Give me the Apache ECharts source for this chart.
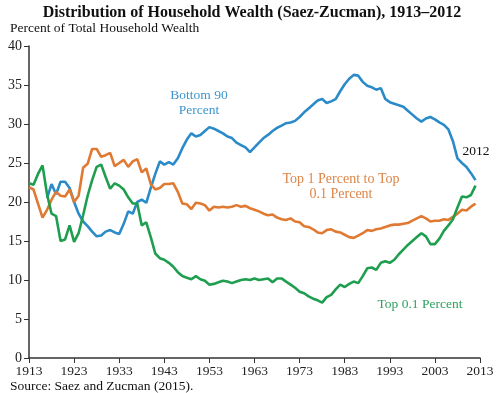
<!DOCTYPE html>
<html>
<head>
<meta charset="utf-8">
<script src="https://cdn.jsdelivr.net/npm/echarts@6/dist/echarts.min.js"></script>
<style>html,body{margin:0;padding:0;background:#fff;}#c{width:500px;height:393px;}</style>
</head>
<body>
<div id="c"></div>
<script>
// Years on the x axis (category ticks every 10 years from 1913)
const firstYear = 1913;
const lastYear = 2013;
const years = [];
for (let y = firstYear; y <= lastYear; y++) years.push(String(y));

// Top 0.1 Percent, 1913-2012
const top01 = [
22.4,22.2,23.6,24.7,21.0,18.5,18.2,15.0,15.2,17.0,
14.9,16.0,18.3,20.8,22.8,24.5,24.8,23.2,21.7,22.4,
22.1,21.6,20.6,19.8,19.8,17.0,17.4,15.5,13.4,12.8,
12.6,12.2,11.7,11.0,10.5,10.3,10.1,10.5,10.1,9.9,
9.4,9.5,9.7,9.9,9.8,9.6,9.8,10.0,10.1,10.0,
10.2,10.0,10.1,10.2,9.7,10.2,10.2,9.8,9.4,9.0,
8.5,8.3,7.9,7.6,7.4,7.1,7.8,8.1,8.8,9.4,
9.1,9.5,9.8,9.6,10.5,11.5,11.6,11.3,12.2,12.4,
12.2,12.6,13.3,13.9,14.5,15.0,15.5,16.0,15.6,14.6,
14.6,15.3,16.3,17.0,17.8,19.3,20.7,20.6,20.9,22.1
];

// Top 1 Percent to Top 0.1 Percent, 1913-2012
const top1to01 = [
21.9,21.6,19.8,18.0,19.0,20.3,21.3,20.8,20.7,21.6,
20.0,20.8,24.4,24.9,26.8,26.8,25.8,26.0,26.3,24.6,
25.0,25.4,24.5,25.2,25.5,23.8,24.3,22.3,21.6,21.8,
22.3,22.3,22.4,21.3,19.8,19.7,19.1,19.9,19.8,19.6,
18.9,19.4,19.3,19.4,19.3,19.4,19.6,19.4,19.5,19.2,
19.0,18.8,18.5,18.3,18.4,18.0,17.8,17.7,17.9,17.5,
17.4,16.9,16.8,16.5,16.1,16.0,16.4,16.5,16.2,16.1,
15.8,15.5,15.4,15.7,16.0,16.4,16.3,16.5,16.6,16.8,
17.0,17.1,17.1,17.2,17.3,17.6,17.9,18.2,17.9,17.5,
17.6,17.6,17.8,17.7,18.1,18.5,19.0,18.9,19.4,19.8
];

// Bottom 90 Percent, 1917-2012
const bottom90Start = 1917;
const bottom90 = [
20.5,22.3,21.0,22.6,22.6,21.8,20.0,18.5,17.5,16.9,
16.2,15.6,15.7,16.2,16.4,16.1,15.9,17.2,18.8,18.5,
20.0,20.3,19.9,21.8,23.6,25.2,24.8,25.1,24.8,25.6,
26.9,28.0,28.8,28.4,28.6,29.1,29.6,29.4,29.1,28.8,
28.4,28.2,27.6,27.3,27.0,26.4,27.0,27.6,28.2,28.6,
29.1,29.5,29.8,30.1,30.2,30.4,30.9,31.5,32.0,32.5,
33.0,33.2,32.7,32.9,33.2,34.2,35.1,35.8,36.3,36.2,
35.4,34.9,34.7,34.4,34.6,33.2,32.8,32.6,32.4,32.2,
31.7,31.2,30.7,30.3,30.7,30.9,30.6,30.2,29.9,29.3,
27.8,25.6,25.0,24.5,23.7,22.8
];

const yTicks = [0,5,10,15,20,25,30,35,40];

function byYear(values, startYear) {
  return years.map(y => {
    const i = Number(y) - startYear;
    return (i >= 0 && i < values.length) ? values[i] : null;
  });
}

const SERIF = '"Liberation Serif", "DejaVu Serif", serif';
const BLUE = '#2b8bc8', ORANGE = '#e07a33', GREEN = '#1f9e4f';
const BLUE_T = '#3f95cc', ORANGE_T = '#dc8547', GREEN_T = '#2ea25c';

const chart = echarts.init(document.getElementById('c'), null, {renderer: 'canvas'});
chart.setOption({
  animation: false,
  backgroundColor: '#fff',
  textStyle: {fontFamily: SERIF},
  grid: {left: 29, right: 20, top: 46, bottom: 35, containLabel: false},
  xAxis: {
    type: 'category',
    data: years,
    boundaryGap: false,
    axisLine: {lineStyle: {color: '#333', width: 1.5}},
    axisTick: {interval: 9, length: 5, lineStyle: {color: '#333'}},
    axisLabel: {interval: 9, color: '#222', fontSize: 13.5, fontFamily: SERIF, margin: 6},
    splitLine: {show: false}
  },
  yAxis: {
    type: 'value',
    min: yTicks[0],
    max: yTicks[yTicks.length - 1],
    interval: 5,
    axisLine: {show: true, lineStyle: {color: '#333', width: 1.5}},
    axisTick: {show: true, length: 5, lineStyle: {color: '#333'}},
    axisLabel: {color: '#222', fontSize: 14, fontFamily: SERIF, margin: 7},
    splitLine: {show: false}
  },
  series: [
    {name: 'Bottom 90 Percent', type: 'line', data: byYear(bottom90, bottom90Start),
     showSymbol: false, connectNulls: false, lineStyle: {color: BLUE, width: 2.6}, itemStyle: {color: BLUE}},
    {name: 'Top 1 Percent to Top 0.1 Percent', type: 'line', data: byYear(top1to01, firstYear),
     showSymbol: false, lineStyle: {color: ORANGE, width: 2.6}, itemStyle: {color: ORANGE}},
    {name: 'Top 0.1 Percent', type: 'line', data: byYear(top01, firstYear),
     showSymbol: false, lineStyle: {color: GREEN, width: 2.6}, itemStyle: {color: GREEN}}
  ],
  graphic: [
    {type: 'text', x: 252, y: 12.5, style: {text: 'Distribution of Household Wealth (Saez-Zucman), 1913\u20132012', font: 'bold 16px ' + SERIF, fill: '#111', align: 'center', verticalAlign: 'middle'}},
    {type: 'text', x: 10, y: 28, style: {text: 'Percent of Total Household Wealth', font: '13.5px ' + SERIF, fill: '#111', verticalAlign: 'middle'}},
    {type: 'text', x: 10, y: 386, style: {text: 'Source: Saez and Zucman (2015).', font: '13.5px ' + SERIF, fill: '#111', verticalAlign: 'middle'}},
    {type: 'text', x: 199, y: 103, style: {text: 'Bottom 90\nPercent', font: '13.5px ' + SERIF, fill: BLUE_T, align: 'center', verticalAlign: 'middle', lineHeight: 15}},
    {type: 'text', x: 341, y: 187, style: {text: 'Top 1 Percent to Top\n0.1 Percent', font: '14px ' + SERIF, fill: ORANGE_T, align: 'center', verticalAlign: 'middle', lineHeight: 15}},
    {type: 'text', x: 420, y: 304, style: {text: 'Top 0.1 Percent', font: '13.5px ' + SERIF, fill: GREEN_T, align: 'center', verticalAlign: 'middle'}},
    {type: 'text', x: 476, y: 151, style: {text: '2012', font: '13.5px ' + SERIF, fill: '#111', align: 'center', verticalAlign: 'middle'}}
  ]
});
</script>
</body>
</html>
